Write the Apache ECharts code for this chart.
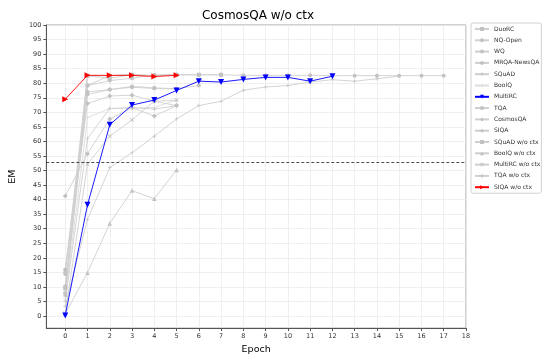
<!DOCTYPE html>
<html>
<head>
<meta charset="utf-8">
<script src="https://cdn.jsdelivr.net/npm/echarts@6/dist/echarts.min.js"></script>
<style>
  html, body { margin: 0; padding: 0; background: #ffffff; }
  #chart { width: 542px; height: 360px; }
</style>
</head>
<body>
<div id="chart"></div>
<script>
// values (EM per epoch, index = epoch)
var duorc = [9.5, 82.6, 81.7, 82.9, 82.6, 82.9, 82.9, 82.9];
var nqOpen = [15.1, 79.2, 80.9, 81.7, 82.9, 82.9, 82.9, 82.9, 82.7, 82.7, 82.7, 82.7, 82.6, 82.6, 82.6, 82.6, 82.6, 82.6];
var wq = [10.2, 77.0, 77.8, 78.9, 78.4, 78.1, 79.2];
var mrqaNewsqa = [7.9, 76.1, 77.8, 78.6, 78.2, 78.0];
var squad = [3.4, 33.2, 51.0, 56.1, 61.8, 67.7, 72.3, 73.8, 77.6, 78.7, 79.2, 80.4, 81.2, 80.7, 81.5, 82.4];
var boolq = [5.9, 68.2, 71.3, 71.4, 71.7, 74.2];
var multirc = [0.2, 38.2, 65.7, 72.5, 74.2, 77.5, 80.7, 80.4, 81.3, 82.0, 82.0, 80.7, 82.4];
var tqa = [14.4, 82.6, 82.6, 82.9, 82.6, 82.9];
var cosmosqa = [41.2, 55.8, 67.7, 71.6, 68.7, 72.3];
var siqa = [16.0, 73.0, 75.6, 75.9, 73.8, 72.3];
var squadNoCtx = [7.2, 79.2, 82.6, 82.9, 82.6, 82.9];
var boolqNoCtx = [0.8, 14.9, 31.8, 43.1, 40.3, 50.2];
var multircNoCtx = [1.0, 52.2, 61.8, 67.4, 73.8, 74.2];
var tqaNoCtx = [5.0, 61.0, 71.3, 71.6, 71.1, 72.3];
var siqaNoCtx = [74.5, 82.7, 82.7, 82.7, 82.3, 82.7];

var refLine = 53;
var xTicks = [];
for (var i = 0; i <= 18; i++) xTicks.push(i);
var yTicks = [];
for (var j = 0; j <= 100; j += 5) yTicks.push(j);

var FONT = 'DejaVu Sans';
var GRAY = '#cfcfcf';
var MGRAY = '#c2c2c2';

var PLUS = 'path://M4,0H6V4H10V6H6V10H4V6H0V4H4Z';
var CROSS = 'path://M1.4,0L5,3.6L8.6,0L10,1.4L6.4,5L10,8.6L8.6,10L5,6.4L1.4,10L0,8.6L3.6,5L0,1.4Z';
var HEX = 'path://M5,0L9.3,2.5L9.3,7.5L5,10L0.7,7.5L0.7,2.5Z';
var THIN_DIAMOND = 'path://M5,0L8,5L5,10L2,5Z';

function pts(arr) {
  return arr.map(function (v, k) { return [k, v]; });
}

function line(name, arr, symbol, size, color, extra) {
  var s = {
    name: name,
    type: 'line',
    data: pts(arr),
    symbol: symbol,
    symbolSize: size,
    showSymbol: true,
    lineStyle: { color: color, width: 0.9 },
    itemStyle: { color: color === GRAY ? MGRAY : color },
    emphasis: { disabled: true },
    animation: false,
    z: 2
  };
  return Object.assign(s, extra || {});
}

var chart = echarts.init(document.getElementById('chart'), null, { renderer: 'canvas' });

chart.setOption({
  backgroundColor: '#ffffff',
  animation: false,
  title: {
    text: 'CosmosQA w/o ctx',
    left: 253,
    top: 5,
    textAlign: 'center',
    textStyle: { fontFamily: FONT, fontSize: 12, fontWeight: 'normal', color: '#000' }
  },
  grid: {
    left: 39, right: 76, top: 25, bottom: 27,
    show: true, borderColor: '#a0a0a0', borderWidth: 1
  },
  legend: {
    orient: 'vertical',
    left: 471,
    top: 23,
    itemWidth: 14,
    itemHeight: 5,
    itemGap: 5.3,
    padding: [3, 1, 3, 3],
    borderColor: '#d0d0d0',
    borderWidth: 1,
    borderRadius: 2,
    textStyle: { fontFamily: FONT, fontSize: 6, color: '#333' }
  },
  xAxis: {
    type: 'value',
    min: -0.85,
    max: 18,
    name: 'Epoch',
    nameLocation: 'middle',
    nameGap: 15,
    nameTextStyle: { fontFamily: FONT, fontSize: 9.5, color: '#000' },
    axisLine: { show: true, onZero: false, lineStyle: { color: '#555', width: 1 } },
    axisTick: { show: true, length: 3, lineStyle: { color: '#555' }, customValues: xTicks },
    axisLabel: { fontFamily: FONT, fontSize: 6.5, color: '#333', margin: 5, customValues: xTicks },
    splitLine: { show: true, lineStyle: { color: '#ebebeb', width: 0.8 } }
  },
  yAxis: {
    type: 'value',
    min: -4.15,
    max: 100,
    name: 'EM',
    nameLocation: 'middle',
    nameGap: 26,
    nameTextStyle: { fontFamily: FONT, fontSize: 9.5, color: '#000' },
    axisLine: { show: true, onZero: false, lineStyle: { color: '#555', width: 1 } },
    axisTick: { show: true, length: 3, lineStyle: { color: '#555' }, customValues: yTicks },
    axisLabel: { fontFamily: FONT, fontSize: 6.5, color: '#333', margin: 5, customValues: yTicks },
    splitLine: { show: true, lineStyle: { color: '#ebebeb', width: 0.8 } }
  },
  series: [
    line('DuoRC', duorc, 'rect', 4, GRAY, {
      markLine: {
        silent: true,
        symbol: 'none',
        label: { show: false },
        lineStyle: { color: '#222', type: [3, 2], width: 0.8 },
        data: [{ yAxis: refLine }]
      }
    }),
    line('NQ-Open', nqOpen, 'circle', 4, GRAY),
    line('WQ', wq, 'circle', 4, GRAY),
    line('MRQA-NewsQA', mrqaNewsqa, HEX, 4, GRAY),
    line('SQuAD', squad, PLUS, 3.5, GRAY),
    line('BoolQ', boolq, PLUS, 4, '#dddddd'),
    line('MultiRC', multirc, 'triangle', 6, '#0000ff', { symbolRotate: 180, z: 4 }),
    line('TQA', tqa, 'circle', 4, GRAY),
    line('CosmosQA', cosmosqa, 'diamond', 5, GRAY),
    line('SIQA', siqa, THIN_DIAMOND, 5, GRAY),
    line('SQuAD w/o ctx', squadNoCtx, 'rect', 3.5, GRAY),
    line('BoolQ w/o ctx', boolqNoCtx, 'triangle', 4.5, GRAY),
    line('MultiRC w/o ctx', multircNoCtx, CROSS, 4, GRAY),
    line('TQA w/o ctx', tqaNoCtx, PLUS, 3.5, GRAY),
    line('SIQA w/o ctx', siqaNoCtx, 'triangle', 6, '#ff0000', { symbolRotate: -90, z: 5 })
  ]
});
</script>
</body>
</html>
